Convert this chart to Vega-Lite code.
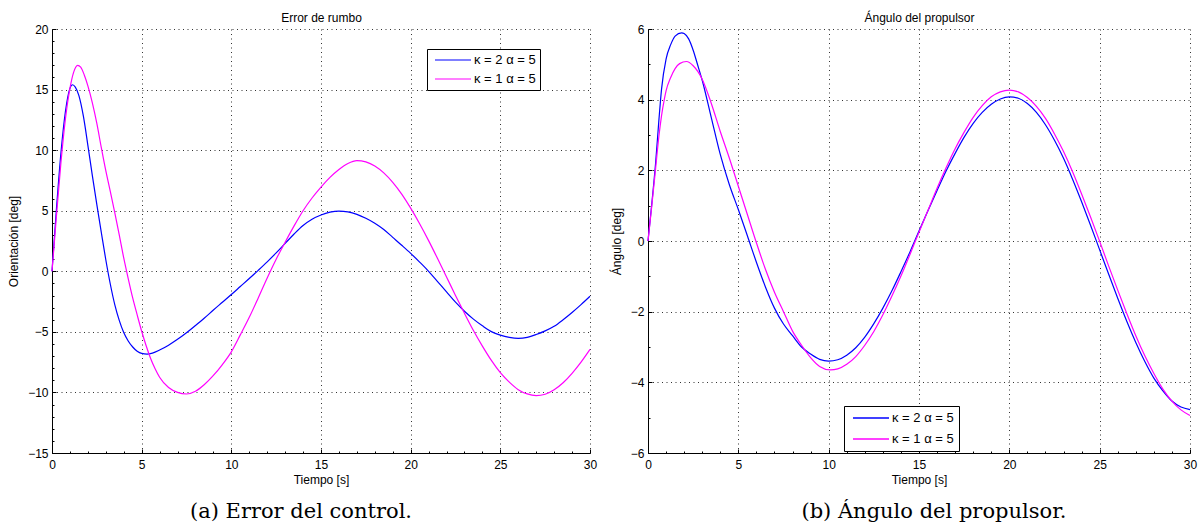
{
  "$schema": "https://vega.github.io/schema/vega-lite/v6.json",
  "autosize": {"type": "pad"},
  "padding": {"left": 7, "top": 11, "right": 6, "bottom": 4},
  "background": "white",
  "spacing": 13,
  "datasets": {
    "rumbo": [
      {"t":0,"v":0,"s":"κ = 2 α = 5"},{"t":0.25,"v":5.2,"s":"κ = 2 α = 5"},{"t":0.5,"v":9.8,"s":"κ = 2 α = 5"},{"t":0.75,"v":13.2,"s":"κ = 2 α = 5"},{"t":1,"v":15.1,"s":"κ = 2 α = 5"},{"t":1.15,"v":15.4,"s":"κ = 2 α = 5"},{"t":1.3,"v":15.2,"s":"κ = 2 α = 5"},{"t":1.5,"v":14.5,"s":"κ = 2 α = 5"},{"t":1.75,"v":12.8,"s":"κ = 2 α = 5"},{"t":2,"v":10.4,"s":"κ = 2 α = 5"},{"t":2.25,"v":7.9,"s":"κ = 2 α = 5"},{"t":2.5,"v":5.5,"s":"κ = 2 α = 5"},{"t":2.75,"v":3.2,"s":"κ = 2 α = 5"},{"t":3,"v":0.95,"s":"κ = 2 α = 5"},{"t":3.25,"v":-1.05,"s":"κ = 2 α = 5"},{"t":3.5,"v":-2.75,"s":"κ = 2 α = 5"},{"t":3.75,"v":-4.05,"s":"κ = 2 α = 5"},{"t":4,"v":-5.05,"s":"κ = 2 α = 5"},{"t":4.25,"v":-5.75,"s":"κ = 2 α = 5"},{"t":4.5,"v":-6.25,"s":"κ = 2 α = 5"},{"t":4.75,"v":-6.6,"s":"κ = 2 α = 5"},{"t":5,"v":-6.78,"s":"κ = 2 α = 5"},{"t":5.3,"v":-6.83,"s":"κ = 2 α = 5"},{"t":5.6,"v":-6.75,"s":"κ = 2 α = 5"},{"t":6,"v":-6.5,"s":"κ = 2 α = 5"},{"t":6.5,"v":-6.1,"s":"κ = 2 α = 5"},{"t":7,"v":-5.62,"s":"κ = 2 α = 5"},{"t":7.5,"v":-5.08,"s":"κ = 2 α = 5"},{"t":8,"v":-4.48,"s":"κ = 2 α = 5"},{"t":8.5,"v":-3.86,"s":"κ = 2 α = 5"},{"t":9,"v":-3.2,"s":"κ = 2 α = 5"},{"t":9.5,"v":-2.56,"s":"κ = 2 α = 5"},{"t":10,"v":-1.92,"s":"κ = 2 α = 5"},{"t":10.5,"v":-1.26,"s":"κ = 2 α = 5"},{"t":11,"v":-0.6,"s":"κ = 2 α = 5"},{"t":11.5,"v":0.08,"s":"κ = 2 α = 5"},{"t":12,"v":0.78,"s":"κ = 2 α = 5"},{"t":12.5,"v":1.52,"s":"κ = 2 α = 5"},{"t":13,"v":2.3,"s":"κ = 2 α = 5"},{"t":13.5,"v":3.08,"s":"κ = 2 α = 5"},{"t":14,"v":3.78,"s":"κ = 2 α = 5"},{"t":14.5,"v":4.3,"s":"κ = 2 α = 5"},{"t":15,"v":4.65,"s":"κ = 2 α = 5"},{"t":15.5,"v":4.88,"s":"κ = 2 α = 5"},{"t":16,"v":4.97,"s":"κ = 2 α = 5"},{"t":16.5,"v":4.9,"s":"κ = 2 α = 5"},{"t":17,"v":4.7,"s":"κ = 2 α = 5"},{"t":17.5,"v":4.38,"s":"κ = 2 α = 5"},{"t":18,"v":3.97,"s":"κ = 2 α = 5"},{"t":18.5,"v":3.45,"s":"κ = 2 α = 5"},{"t":19,"v":2.8,"s":"κ = 2 α = 5"},{"t":19.5,"v":2.15,"s":"κ = 2 α = 5"},{"t":20,"v":1.48,"s":"κ = 2 α = 5"},{"t":20.5,"v":0.76,"s":"κ = 2 α = 5"},{"t":21,"v":0,"s":"κ = 2 α = 5"},{"t":21.5,"v":-0.85,"s":"κ = 2 α = 5"},{"t":22,"v":-1.7,"s":"κ = 2 α = 5"},{"t":22.5,"v":-2.55,"s":"κ = 2 α = 5"},{"t":23,"v":-3.3,"s":"κ = 2 α = 5"},{"t":23.5,"v":-3.95,"s":"κ = 2 α = 5"},{"t":24,"v":-4.5,"s":"κ = 2 α = 5"},{"t":24.5,"v":-4.98,"s":"κ = 2 α = 5"},{"t":25,"v":-5.27,"s":"κ = 2 α = 5"},{"t":25.5,"v":-5.45,"s":"κ = 2 α = 5"},{"t":26,"v":-5.53,"s":"κ = 2 α = 5"},{"t":26.5,"v":-5.45,"s":"κ = 2 α = 5"},{"t":27,"v":-5.22,"s":"κ = 2 α = 5"},{"t":27.5,"v":-4.92,"s":"κ = 2 α = 5"},{"t":28,"v":-4.54,"s":"κ = 2 α = 5"},{"t":28.5,"v":-4.0,"s":"κ = 2 α = 5"},{"t":29,"v":-3.4,"s":"κ = 2 α = 5"},{"t":29.5,"v":-2.75,"s":"κ = 2 α = 5"},{"t":30,"v":-2.06,"s":"κ = 2 α = 5"},
      {"t":0,"v":0,"s":"κ = 1 α = 5"},{"t":0.25,"v":4.6,"s":"κ = 1 α = 5"},{"t":0.5,"v":9.0,"s":"κ = 1 α = 5"},{"t":0.75,"v":12.6,"s":"κ = 1 α = 5"},{"t":1,"v":15.1,"s":"κ = 1 α = 5"},{"t":1.2,"v":16.4,"s":"κ = 1 α = 5"},{"t":1.43,"v":17.0,"s":"κ = 1 α = 5"},{"t":1.6,"v":16.85,"s":"κ = 1 α = 5"},{"t":1.8,"v":16.2,"s":"κ = 1 α = 5"},{"t":2,"v":15.3,"s":"κ = 1 α = 5"},{"t":2.25,"v":13.9,"s":"κ = 1 α = 5"},{"t":2.5,"v":12.2,"s":"κ = 1 α = 5"},{"t":2.75,"v":10.2,"s":"κ = 1 α = 5"},{"t":3,"v":8.3,"s":"κ = 1 α = 5"},{"t":3.25,"v":6.6,"s":"κ = 1 α = 5"},{"t":3.5,"v":4.85,"s":"κ = 1 α = 5"},{"t":3.75,"v":3.0,"s":"κ = 1 α = 5"},{"t":4,"v":1.1,"s":"κ = 1 α = 5"},{"t":4.25,"v":-0.6,"s":"κ = 1 α = 5"},{"t":4.5,"v":-2.2,"s":"κ = 1 α = 5"},{"t":4.75,"v":-3.6,"s":"κ = 1 α = 5"},{"t":5,"v":-4.95,"s":"κ = 1 α = 5"},{"t":5.25,"v":-6.15,"s":"κ = 1 α = 5"},{"t":5.5,"v":-7.2,"s":"κ = 1 α = 5"},{"t":5.75,"v":-8.05,"s":"κ = 1 α = 5"},{"t":6,"v":-8.75,"s":"κ = 1 α = 5"},{"t":6.5,"v":-9.6,"s":"κ = 1 α = 5"},{"t":7,"v":-10.0,"s":"κ = 1 α = 5"},{"t":7.5,"v":-10.13,"s":"κ = 1 α = 5"},{"t":8,"v":-9.9,"s":"κ = 1 α = 5"},{"t":8.5,"v":-9.35,"s":"κ = 1 α = 5"},{"t":9,"v":-8.6,"s":"κ = 1 α = 5"},{"t":9.5,"v":-7.7,"s":"κ = 1 α = 5"},{"t":10,"v":-6.65,"s":"κ = 1 α = 5"},{"t":10.5,"v":-5.25,"s":"κ = 1 α = 5"},{"t":11,"v":-3.8,"s":"κ = 1 α = 5"},{"t":11.5,"v":-2.2,"s":"κ = 1 α = 5"},{"t":12,"v":-0.55,"s":"κ = 1 α = 5"},{"t":12.5,"v":1.0,"s":"κ = 1 α = 5"},{"t":13,"v":2.4,"s":"κ = 1 α = 5"},{"t":13.5,"v":3.75,"s":"κ = 1 α = 5"},{"t":14,"v":5.0,"s":"κ = 1 α = 5"},{"t":14.5,"v":6.05,"s":"κ = 1 α = 5"},{"t":15,"v":6.95,"s":"κ = 1 α = 5"},{"t":15.5,"v":7.75,"s":"κ = 1 α = 5"},{"t":16,"v":8.4,"s":"κ = 1 α = 5"},{"t":16.5,"v":8.9,"s":"κ = 1 α = 5"},{"t":17,"v":9.14,"s":"κ = 1 α = 5"},{"t":17.5,"v":9.03,"s":"κ = 1 α = 5"},{"t":18,"v":8.69,"s":"κ = 1 α = 5"},{"t":18.5,"v":8.12,"s":"κ = 1 α = 5"},{"t":19,"v":7.34,"s":"κ = 1 α = 5"},{"t":19.5,"v":6.37,"s":"κ = 1 α = 5"},{"t":20,"v":5.21,"s":"κ = 1 α = 5"},{"t":20.5,"v":3.92,"s":"κ = 1 α = 5"},{"t":21,"v":2.53,"s":"κ = 1 α = 5"},{"t":21.5,"v":1.05,"s":"κ = 1 α = 5"},{"t":22,"v":-0.47,"s":"κ = 1 α = 5"},{"t":22.5,"v":-1.99,"s":"κ = 1 α = 5"},{"t":23,"v":-3.47,"s":"κ = 1 α = 5"},{"t":23.5,"v":-4.89,"s":"κ = 1 α = 5"},{"t":24,"v":-6.18,"s":"κ = 1 α = 5"},{"t":24.5,"v":-7.36,"s":"κ = 1 α = 5"},{"t":25,"v":-8.37,"s":"κ = 1 α = 5"},{"t":25.5,"v":-9.15,"s":"κ = 1 α = 5"},{"t":26,"v":-9.77,"s":"κ = 1 α = 5"},{"t":26.5,"v":-10.12,"s":"κ = 1 α = 5"},{"t":27,"v":-10.26,"s":"κ = 1 α = 5"},{"t":27.5,"v":-10.15,"s":"κ = 1 α = 5"},{"t":28,"v":-9.78,"s":"κ = 1 α = 5"},{"t":28.5,"v":-9.2,"s":"κ = 1 α = 5"},{"t":29,"v":-8.42,"s":"κ = 1 α = 5"},{"t":29.5,"v":-7.5,"s":"κ = 1 α = 5"},{"t":30,"v":-6.45,"s":"κ = 1 α = 5"}
    ],
    "propulsor": [
      {"t":0,"v":0,"s":"κ = 2 α = 5"},{"t":0.2,"v":1.0,"s":"κ = 2 α = 5"},{"t":0.42,"v":2.2,"s":"κ = 2 α = 5"},{"t":0.6,"v":3.4,"s":"κ = 2 α = 5"},{"t":0.75,"v":4.3,"s":"κ = 2 α = 5"},{"t":1,"v":5.15,"s":"κ = 2 α = 5"},{"t":1.25,"v":5.55,"s":"κ = 2 α = 5"},{"t":1.5,"v":5.8,"s":"κ = 2 α = 5"},{"t":1.86,"v":5.89,"s":"κ = 2 α = 5"},{"t":2,"v":5.87,"s":"κ = 2 α = 5"},{"t":2.25,"v":5.72,"s":"κ = 2 α = 5"},{"t":2.5,"v":5.4,"s":"κ = 2 α = 5"},{"t":2.75,"v":4.98,"s":"κ = 2 α = 5"},{"t":3,"v":4.55,"s":"κ = 2 α = 5"},{"t":3.5,"v":3.5,"s":"κ = 2 α = 5"},{"t":4,"v":2.45,"s":"κ = 2 α = 5"},{"t":4.5,"v":1.6,"s":"κ = 2 α = 5"},{"t":5,"v":0.89,"s":"κ = 2 α = 5"},{"t":5.5,"v":0.15,"s":"κ = 2 α = 5"},{"t":6,"v":-0.6,"s":"κ = 2 α = 5"},{"t":6.5,"v":-1.3,"s":"κ = 2 α = 5"},{"t":7,"v":-1.9,"s":"κ = 2 α = 5"},{"t":7.5,"v":-2.35,"s":"κ = 2 α = 5"},{"t":8,"v":-2.68,"s":"κ = 2 α = 5"},{"t":8.5,"v":-3.0,"s":"κ = 2 α = 5"},{"t":9,"v":-3.2,"s":"κ = 2 α = 5"},{"t":9.5,"v":-3.35,"s":"κ = 2 α = 5"},{"t":10,"v":-3.4,"s":"κ = 2 α = 5"},{"t":10.5,"v":-3.36,"s":"κ = 2 α = 5"},{"t":11,"v":-3.23,"s":"κ = 2 α = 5"},{"t":11.5,"v":-3.02,"s":"κ = 2 α = 5"},{"t":12,"v":-2.72,"s":"κ = 2 α = 5"},{"t":12.5,"v":-2.34,"s":"κ = 2 α = 5"},{"t":13,"v":-1.9,"s":"κ = 2 α = 5"},{"t":13.5,"v":-1.41,"s":"κ = 2 α = 5"},{"t":14,"v":-0.87,"s":"κ = 2 α = 5"},{"t":14.5,"v":-0.31,"s":"κ = 2 α = 5"},{"t":15,"v":0.28,"s":"κ = 2 α = 5"},{"t":15.5,"v":0.86,"s":"κ = 2 α = 5"},{"t":16,"v":1.43,"s":"κ = 2 α = 5"},{"t":16.5,"v":1.98,"s":"κ = 2 α = 5"},{"t":17,"v":2.48,"s":"κ = 2 α = 5"},{"t":17.5,"v":2.94,"s":"κ = 2 α = 5"},{"t":18,"v":3.33,"s":"κ = 2 α = 5"},{"t":18.5,"v":3.64,"s":"κ = 2 α = 5"},{"t":19,"v":3.87,"s":"κ = 2 α = 5"},{"t":19.5,"v":4.02,"s":"κ = 2 α = 5"},{"t":20,"v":4.08,"s":"κ = 2 α = 5"},{"t":20.5,"v":4.04,"s":"κ = 2 α = 5"},{"t":21,"v":3.89,"s":"κ = 2 α = 5"},{"t":21.5,"v":3.64,"s":"κ = 2 α = 5"},{"t":22,"v":3.29,"s":"κ = 2 α = 5"},{"t":22.5,"v":2.85,"s":"κ = 2 α = 5"},{"t":23,"v":2.34,"s":"κ = 2 α = 5"},{"t":23.5,"v":1.75,"s":"κ = 2 α = 5"},{"t":24,"v":1.11,"s":"κ = 2 α = 5"},{"t":24.5,"v":0.44,"s":"κ = 2 α = 5"},{"t":25,"v":-0.25,"s":"κ = 2 α = 5"},{"t":25.5,"v":-0.94,"s":"κ = 2 α = 5"},{"t":26,"v":-1.62,"s":"κ = 2 α = 5"},{"t":26.5,"v":-2.27,"s":"κ = 2 α = 5"},{"t":27,"v":-2.87,"s":"κ = 2 α = 5"},{"t":27.5,"v":-3.41,"s":"κ = 2 α = 5"},{"t":28,"v":-3.88,"s":"κ = 2 α = 5"},{"t":28.5,"v":-4.24,"s":"κ = 2 α = 5"},{"t":29,"v":-4.53,"s":"κ = 2 α = 5"},{"t":29.5,"v":-4.7,"s":"κ = 2 α = 5"},{"t":30,"v":-4.77,"s":"κ = 2 α = 5"},
      {"t":0,"v":0,"s":"κ = 1 α = 5"},{"t":0.2,"v":0.95,"s":"κ = 1 α = 5"},{"t":0.42,"v":2.05,"s":"κ = 1 α = 5"},{"t":0.6,"v":2.95,"s":"κ = 1 α = 5"},{"t":0.75,"v":3.55,"s":"κ = 1 α = 5"},{"t":0.9,"v":4.0,"s":"κ = 1 α = 5"},{"t":1,"v":4.25,"s":"κ = 1 α = 5"},{"t":1.25,"v":4.62,"s":"κ = 1 α = 5"},{"t":1.5,"v":4.88,"s":"κ = 1 α = 5"},{"t":1.75,"v":5.02,"s":"κ = 1 α = 5"},{"t":2.13,"v":5.08,"s":"κ = 1 α = 5"},{"t":2.5,"v":4.96,"s":"κ = 1 α = 5"},{"t":3,"v":4.58,"s":"κ = 1 α = 5"},{"t":3.5,"v":3.9,"s":"κ = 1 α = 5"},{"t":4,"v":3.1,"s":"κ = 1 α = 5"},{"t":4.5,"v":2.35,"s":"κ = 1 α = 5"},{"t":5,"v":1.55,"s":"κ = 1 α = 5"},{"t":5.5,"v":0.75,"s":"κ = 1 α = 5"},{"t":6,"v":-0.05,"s":"κ = 1 α = 5"},{"t":6.5,"v":-0.8,"s":"κ = 1 α = 5"},{"t":7,"v":-1.45,"s":"κ = 1 α = 5"},{"t":7.5,"v":-2.0,"s":"κ = 1 α = 5"},{"t":8,"v":-2.55,"s":"κ = 1 α = 5"},{"t":8.5,"v":-2.95,"s":"κ = 1 α = 5"},{"t":9,"v":-3.3,"s":"κ = 1 α = 5"},{"t":9.5,"v":-3.55,"s":"κ = 1 α = 5"},{"t":10.1,"v":-3.65,"s":"κ = 1 α = 5"},{"t":10.5,"v":-3.62,"s":"κ = 1 α = 5"},{"t":11,"v":-3.49,"s":"κ = 1 α = 5"},{"t":11.5,"v":-3.27,"s":"κ = 1 α = 5"},{"t":12,"v":-2.95,"s":"κ = 1 α = 5"},{"t":12.5,"v":-2.56,"s":"κ = 1 α = 5"},{"t":13,"v":-2.09,"s":"κ = 1 α = 5"},{"t":13.5,"v":-1.56,"s":"κ = 1 α = 5"},{"t":14,"v":-0.99,"s":"κ = 1 α = 5"},{"t":14.5,"v":-0.38,"s":"κ = 1 α = 5"},{"t":15,"v":0.25,"s":"κ = 1 α = 5"},{"t":15.5,"v":0.87,"s":"κ = 1 α = 5"},{"t":16,"v":1.49,"s":"κ = 1 α = 5"},{"t":16.5,"v":2.07,"s":"κ = 1 α = 5"},{"t":17,"v":2.61,"s":"κ = 1 α = 5"},{"t":17.5,"v":3.08,"s":"κ = 1 α = 5"},{"t":18,"v":3.5,"s":"κ = 1 α = 5"},{"t":18.5,"v":3.83,"s":"κ = 1 α = 5"},{"t":19,"v":4.08,"s":"κ = 1 α = 5"},{"t":19.5,"v":4.22,"s":"κ = 1 α = 5"},{"t":20,"v":4.27,"s":"κ = 1 α = 5"},{"t":20.5,"v":4.22,"s":"κ = 1 α = 5"},{"t":21,"v":4.06,"s":"κ = 1 α = 5"},{"t":21.5,"v":3.81,"s":"κ = 1 α = 5"},{"t":22,"v":3.47,"s":"κ = 1 α = 5"},{"t":22.5,"v":3.03,"s":"κ = 1 α = 5"},{"t":23,"v":2.53,"s":"κ = 1 α = 5"},{"t":23.5,"v":1.96,"s":"κ = 1 α = 5"},{"t":24,"v":1.33,"s":"κ = 1 α = 5"},{"t":24.5,"v":0.67,"s":"κ = 1 α = 5"},{"t":25,"v":-0.01,"s":"κ = 1 α = 5"},{"t":25.5,"v":-0.71,"s":"κ = 1 α = 5"},{"t":26,"v":-1.39,"s":"κ = 1 α = 5"},{"t":26.5,"v":-2.05,"s":"κ = 1 α = 5"},{"t":27,"v":-2.68,"s":"κ = 1 α = 5"},{"t":27.5,"v":-3.25,"s":"κ = 1 α = 5"},{"t":28,"v":-3.75,"s":"κ = 1 α = 5"},{"t":28.5,"v":-4.19,"s":"κ = 1 α = 5"},{"t":29,"v":-4.53,"s":"κ = 1 α = 5"},{"t":29.5,"v":-4.78,"s":"κ = 1 α = 5"},{"t":30,"v":-4.94,"s":"κ = 1 α = 5"}
    ]
  },
  "resolve": {"scale": {"color": "independent"}, "legend": {"color": "independent"}},
  "hconcat": [
    {
      "width": 538,
      "height": 424,
      "data": {"name": "rumbo"},
      "title": {"text": "(a) Error del control.", "orient": "bottom", "font": "DejaVu Serif", "fontSize": 21, "fontWeight": "normal", "color": "#000", "offset": 16, "anchor": "middle", "dx": -20},
      "resolve": {"axis": {"x": "independent"}},
      "layer": [
        {
          "transform": [{"filter": "datum.s === 'κ = 2 α = 5'"}],
          "mark": {"type": "line", "strokeWidth": 1.2, "interpolate": "monotone"},
          "encoding": {
            "x": {"field": "t", "type": "quantitative", "scale": {"domain": [0, 30], "nice": false, "zero": false},
              "axis": {"orient": "bottom", "title": "Tiempo [s]", "format": "d", "tickCount": 1000,
                "values": [0,0.5,1,1.5,2,2.5,3,3.5,4,4.5,5,5.5,6,6.5,7,7.5,8,8.5,9,9.5,10,10.5,11,11.5,12,12.5,13,13.5,14,14.5,15,15.5,16,16.5,17,17.5,18,18.5,19,19.5,20,20.5,21,21.5,22,22.5,23,23.5,24,24.5,25,25.5,26,26.5,27,27.5,28,28.5,29,29.5,30],
                "labelExpr": "datum.value % 5 === 0 ? datum.label : ''",
                "tickSize": {"condition": {"test": "datum.value % 5 === 0", "value": -4}, "value": -2},
                "gridOpacity": {"condition": {"test": "datum.value % 5 === 0", "value": 1}, "value": 0},
                "labelPadding": 10, "titlePadding": 2}},
            "y": {"field": "v", "type": "quantitative", "scale": {"domain": [-15, 20], "nice": false, "zero": false},
              "axis": {"title": "Orientación [deg]", "format": "d", "tickCount": 1000,
                "values": [-15,-14.5,-14,-13.5,-13,-12.5,-12,-11.5,-11,-10.5,-10,-9.5,-9,-8.5,-8,-7.5,-7,-6.5,-6,-5.5,-5,-4.5,-4,-3.5,-3,-2.5,-2,-1.5,-1,-0.5,0,0.5,1,1.5,2,2.5,3,3.5,4,4.5,5,5.5,6,6.5,7,7.5,8,8.5,9,9.5,10,10.5,11,11.5,12,12.5,13,13.5,14,14.5,15,15.5,16,16.5,17,17.5,18,18.5,19,19.5,20],
                "labelExpr": "datum.value % 5 === 0 ? datum.label : ''",
                "tickSize": {"condition": {"test": "datum.value % 5 === 0", "value": -4}, "value": -2},
                "gridOpacity": {"condition": {"test": "datum.value % 5 === 0", "value": 1}, "value": 0},
                "labelPadding": 8, "titlePadding": 7}},
            "color": {"field": "s", "type": "nominal", "scale": {"domain": ["κ = 2 α = 5", "κ = 1 α = 5"], "range": ["#0000ff", "#ff00ff"]},
              "legend": {"orient": "none", "legendX": 375, "legendY": 20, "title": null, "strokeColor": "#000", "fillColor": "#fff", "padding": 4, "symbolType": "M-3,0H3", "symbolSize": 144, "symbolStrokeWidth": 1.2, "symbolOffset": 15, "labelOffset": 14, "labelFont": "Liberation Sans", "labelFontSize": 13, "labelColor": "#000", "rowPadding": 5, "cornerRadius": 0}}
          }
        },
        {
          "transform": [{"filter": "datum.s === 'κ = 1 α = 5'"}],
          "mark": {"type": "line", "strokeWidth": 1.2, "interpolate": "monotone"},
          "encoding": {
            "x": {"field": "t", "type": "quantitative", "axis": {"orient": "top", "title": "Error de rumbo", "labels": false, "ticks": false, "domain": false, "grid": false, "titlePadding": 5}},
            "y": {"field": "v", "type": "quantitative"},
            "color": {"field": "s", "type": "nominal"}
          }
        }
      ]
    },
    {
      "width": 542,
      "height": 424,
      "data": {"name": "propulsor"},
      "title": {"text": "(b) Ángulo del propulsor.", "orient": "bottom", "font": "DejaVu Serif", "fontSize": 21, "fontWeight": "normal", "color": "#000", "offset": 16, "anchor": "middle", "dx": 15},
      "resolve": {"axis": {"x": "independent"}},
      "layer": [
        {
          "transform": [{"filter": "datum.s === 'κ = 2 α = 5'"}],
          "mark": {"type": "line", "strokeWidth": 1.2, "interpolate": "monotone"},
          "encoding": {
            "x": {"field": "t", "type": "quantitative", "scale": {"domain": [0, 30], "nice": false, "zero": false},
              "axis": {"orient": "bottom", "title": "Tiempo [s]", "format": "d", "tickCount": 1000,
                "values": [0,0.5,1,1.5,2,2.5,3,3.5,4,4.5,5,5.5,6,6.5,7,7.5,8,8.5,9,9.5,10,10.5,11,11.5,12,12.5,13,13.5,14,14.5,15,15.5,16,16.5,17,17.5,18,18.5,19,19.5,20,20.5,21,21.5,22,22.5,23,23.5,24,24.5,25,25.5,26,26.5,27,27.5,28,28.5,29,29.5,30],
                "labelExpr": "datum.value % 5 === 0 ? datum.label : ''",
                "tickSize": {"condition": {"test": "datum.value % 5 === 0", "value": -4}, "value": -2},
                "gridOpacity": {"condition": {"test": "datum.value % 5 === 0", "value": 1}, "value": 0},
                "labelPadding": 10, "titlePadding": 2}},
            "y": {"field": "v", "type": "quantitative", "scale": {"domain": [-6, 6], "nice": false, "zero": false},
              "axis": {"title": "Ángulo [deg]", "format": "d", "tickCount": 1000,
                "values": [-6,-5.5,-5,-4.5,-4,-3.5,-3,-2.5,-2,-1.5,-1,-0.5,0,0.5,1,1.5,2,2.5,3,3.5,4,4.5,5,5.5,6],
                "labelExpr": "datum.value % 2 === 0 ? datum.label : ''",
                "tickSize": {"condition": {"test": "datum.value % 2 === 0", "value": -4}, "value": -2},
                "gridOpacity": {"condition": {"test": "datum.value % 2 === 0", "value": 1}, "value": 0},
                "labelPadding": 8, "titlePadding": 7}},
            "color": {"field": "s", "type": "nominal", "scale": {"domain": ["κ = 2 α = 5", "κ = 1 α = 5"], "range": ["#0000ff", "#ff00ff"]},
              "legend": {"orient": "none", "legendX": 196, "legendY": 377, "title": null, "strokeColor": "#000", "fillColor": "#fff", "padding": 5, "symbolType": "M-3,0H3", "symbolSize": 144, "symbolStrokeWidth": 1.7, "symbolOffset": 15, "labelOffset": 14, "labelFont": "Liberation Sans", "labelFontSize": 13, "labelColor": "#000", "rowPadding": 7, "cornerRadius": 0}}
          }
        },
        {
          "transform": [{"filter": "datum.s === 'κ = 1 α = 5'"}],
          "mark": {"type": "line", "strokeWidth": 1.2, "interpolate": "monotone"},
          "encoding": {
            "x": {"field": "t", "type": "quantitative", "axis": {"orient": "top", "title": "Ángulo del propulsor", "labels": false, "ticks": false, "domain": false, "grid": false, "titlePadding": 5}},
            "y": {"field": "v", "type": "quantitative"},
            "color": {"field": "s", "type": "nominal"}
          }
        }
      ]
    }
  ],
  "config": {
    "view": {"stroke": null},
    "axis": {
      "labelFont": "Liberation Sans", "labelFontSize": 12, "labelColor": "#000",
      "titleFont": "Liberation Sans", "titleFontSize": 12, "titleFontWeight": "normal", "titleColor": "#000",
      "domainColor": "#000", "domainWidth": 1, "tickColor": "#000", "tickWidth": 1,
      "grid": true, "gridColor": "#333", "gridDash": [1, 3.5], "gridWidth": 1,
      "labelOverlap": false, "labelFlush": false
    }
  }
}
